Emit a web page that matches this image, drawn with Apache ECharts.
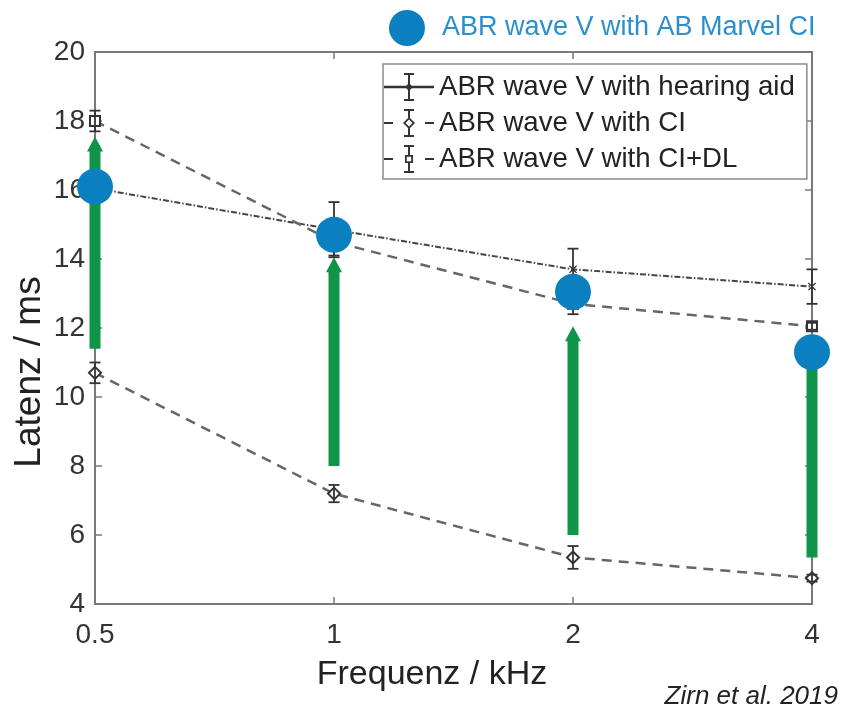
<!DOCTYPE html>
<html><head><meta charset="utf-8">
<script src="https://cdn.jsdelivr.net/npm/echarts@6/dist/echarts.min.js"></script>
<style>html,body{margin:0;padding:0;background:#fff}#c{width:850px;height:711px}</style>
</head><body><div id="c"></div>
<script>
// ---- data ----
const frequencies = ['0.5', '1', '2', '4'];
const yMin = 4, yMax = 20, yStep = 2;
const seriesNames = ['ABR wave V with hearing aid', 'ABR wave V with CI', 'ABR wave V with CI+DL'];
const marvelName = 'ABR wave V with AB Marvel CI';
const hearingAid = [16.05, 14.85, 13.7, 13.2];
const hearingAidErr = [0.3, 0.8, 0.6, 0.5];
const ci = [10.7, 7.2, 5.35, 4.75];
const ciErr = [0.3, 0.25, 0.33, 0.1];
const ciDl = [18.0, 14.5, 12.7, 12.05];
const ciDlErr = [0.3, 0.4, 0.3, 0.1];
const marvel = [16.1, 14.7, 13.05, 11.3];
const arrowFrom = [11.4, 8.0, 6.0, 5.35];
const arrowTo = [17.55, 14.05, 12.05, 11.3];

// ---- helpers ----
const FONT = 'Liberation Sans, Arial, Helvetica, sans-serif';
const errData = (v, e) => v.map((y, i) => [i, y - e[i], y + e[i]]);
function errRender(params, api) {
  const x = api.value(0);
  const lo = api.coord([x, api.value(1)]);
  const hi = api.coord([x, api.value(2)]);
  const hw = 5.5;
  const st = { stroke: '#333', lineWidth: 1.8 };
  return { type: 'group', children: [
    { type: 'line', shape: { x1: lo[0], y1: lo[1], x2: hi[0], y2: hi[1] }, style: st },
    { type: 'line', shape: { x1: lo[0] - hw, y1: lo[1], x2: lo[0] + hw, y2: lo[1] }, style: st },
    { type: 'line', shape: { x1: hi[0] - hw, y1: hi[1], x2: hi[0] + hw, y2: hi[1] }, style: st }
  ]};
}
function arrowRender(params, api) {
  const x = api.value(0);
  const b = api.coord([x, api.value(1)]);
  const t = api.coord([x, api.value(2)]);
  const sw = 5.5, hw = 8, hl = 15;
  const cx = b[0];
  return { type: 'polygon', shape: { points: [
    [cx - sw, b[1]], [cx - sw, t[1] + hl], [cx - hw, t[1] + hl], [cx, t[1]],
    [cx + hw, t[1] + hl], [cx + sw, t[1] + hl], [cx + sw, b[1]]
  ]}, style: { fill: '#0f9448' } };
}

const iconHA = 'path://M0 12.8L50 12.8L50 15.2L0 15.2Z M24 2L26 2L26 26L24 26Z M20 0L30 0L30 2L20 2Z M20 26L30 26L30 28L20 28Z M25 10L29 14L25 18L21 14Z';
const iconCI = 'path://M0 13L9 13L9 15L0 15Z M41 13L50 13L50 15L41 15Z M20 0L30 0L30 2L20 2Z M20 26L30 26L30 28L20 28Z M24 2L26 2L26 8.5L24 8.5Z M24 19.5L26 19.5L26 26L24 26Z M25 8L31 14L25 20L19 14Z M25 10.5L21.5 14L25 17.5L28.5 14Z';
const iconDL = 'path://M0 13L9 13L9 15L0 15Z M41 13L50 13L50 15L41 15Z M20 0L30 0L30 2L20 2Z M20 26L30 26L30 28L20 28Z M24 2L26 2L26 10L24 10Z M24 18L26 18L26 26L24 26Z M21 10L29 10L29 18L21 18Z M22.8 11.8L22.8 16.2L27.2 16.2L27.2 11.8Z';
const xMark = 'path://M1 0L5 4L9 0L10 1L6 5L10 9L9 10L5 6L1 10L0 9L4 5L0 1Z';

const axisCol = '#7a7a7a';
const chart = echarts.init(document.getElementById('c'), null, { renderer: 'canvas' });
chart.setOption({
  animation: false,
  backgroundColor: '#fff',
  grid: { left: 95, right: 38, top: 52, bottom: 107 },
  xAxis: [
    { type: 'category', data: frequencies, boundaryGap: false, position: 'bottom',
      axisLine: { lineStyle: { color: axisCol, width: 2 } },
      axisTick: { inside: true, length: 7, lineStyle: { color: axisCol, width: 1.5 } },
      axisLabel: { fontSize: 28, color: '#333', margin: 17, fontFamily: FONT },
      splitLine: { show: false } },
    { type: 'category', data: frequencies, boundaryGap: false, position: 'top',
      axisLine: { lineStyle: { color: axisCol, width: 2 } },
      axisTick: { inside: true, length: 7, lineStyle: { color: axisCol, width: 1.5 } },
      axisLabel: { show: false }, splitLine: { show: false } }
  ],
  yAxis: [
    { type: 'value', min: yMin, max: yMax, interval: yStep, position: 'left',
      axisLine: { show: true, lineStyle: { color: axisCol, width: 2 } },
      axisTick: { show: true, inside: true, length: 7, lineStyle: { color: axisCol, width: 1.5 } },
      axisLabel: { fontSize: 28, color: '#333', margin: 10, fontFamily: FONT },
      splitLine: { show: false } },
    { type: 'value', min: yMin, max: yMax, interval: yStep, position: 'right',
      axisLine: { show: true, lineStyle: { color: axisCol, width: 2 } },
      axisTick: { show: true, inside: true, length: 7, lineStyle: { color: axisCol, width: 1.5 } },
      axisLabel: { show: false }, splitLine: { show: false } }
  ],
  legend: [
    { data: [ { name: seriesNames[0], icon: iconHA }, { name: seriesNames[1], icon: iconCI }, { name: seriesNames[2], icon: iconDL } ],
      orient: 'vertical', left: 383, top: 64, itemWidth: 50, itemHeight: 28, itemGap: 8,
      padding: [9, 12, 6, 1], backgroundColor: '#fff', borderColor: '#8a8a8a', borderWidth: 1.5,
      textStyle: { fontSize: 27.6, color: '#222', fontFamily: FONT },
      itemStyle: { color: '#333', borderWidth: 0 }, selectedMode: false },
    { data: [ { name: marvelName, icon: 'circle' } ],
      orient: 'horizontal', left: 389, top: 10, itemWidth: 60, itemHeight: 36, padding: 0,
      textStyle: { fontSize: 27, color: '#2a8fcc', fontFamily: FONT },
      itemStyle: { color: '#0b80c1', borderWidth: 0 }, selectedMode: false }
  ],
  graphic: [
    { type: 'text', style: { text: 'Frequenz / kHz', font: '34px ' + FONT, fill: '#222', textAlign: 'center', textVerticalAlign: 'middle', x: 432, y: 675 } },
    { type: 'text', rotation: Math.PI / 2, x: 30, y: 372, style: { text: 'Latenz / ms', font: '37px ' + FONT, fill: '#222', textAlign: 'center', textVerticalAlign: 'middle' } },
    { type: 'text', x: 838, y: 697, style: { text: 'Zirn et al. 2019', font: 'italic 26px ' + FONT, fill: '#222', textAlign: 'right', textVerticalAlign: 'middle' } }
  ],
  series: [
    { name: seriesNames[0], type: 'line', data: hearingAid, z: 2,
      symbol: xMark, symbolSize: 8, showSymbol: true,
      lineStyle: { color: '#444', width: 2, type: [6, 2, 1.5, 2] },
      itemStyle: { color: '#222', borderWidth: 0 } },
    { name: seriesNames[1], type: 'line', data: ci, z: 2,
      symbol: 'emptyDiamond', symbolSize: 12,
      lineStyle: { color: '#666', width: 2.5, type: [10, 7] },
      itemStyle: { color: '#333', borderColor: '#333', borderWidth: 2 } },
    { name: seriesNames[2], type: 'line', data: ciDl, z: 2,
      symbol: 'emptyRect', symbolSize: 10,
      lineStyle: { color: '#666', width: 2.5, type: [10, 7] },
      itemStyle: { color: '#333', borderColor: '#333', borderWidth: 2 } },
    { name: 'errHA', type: 'custom', renderItem: errRender, data: errData(hearingAid, hearingAidErr), encode: { x: 0, y: [1, 2] }, z: 3 },
    { name: 'errCI', type: 'custom', renderItem: errRender, data: errData(ci, ciErr), encode: { x: 0, y: [1, 2] }, z: 3 },
    { name: 'errDL', type: 'custom', renderItem: errRender, data: errData(ciDl, ciDlErr), encode: { x: 0, y: [1, 2] }, z: 3 },
    { name: 'arrows', type: 'custom', renderItem: arrowRender, data: arrowFrom.map((v, i) => [i, v, arrowTo[i]]), encode: { x: 0, y: [1, 2] }, z: 4 },
    { name: marvelName, type: 'scatter', data: marvel, symbol: 'circle', symbolSize: 36, z: 5,
      itemStyle: { color: '#0b80c1', opacity: 1 } }
  ]
});
</script></body></html>
